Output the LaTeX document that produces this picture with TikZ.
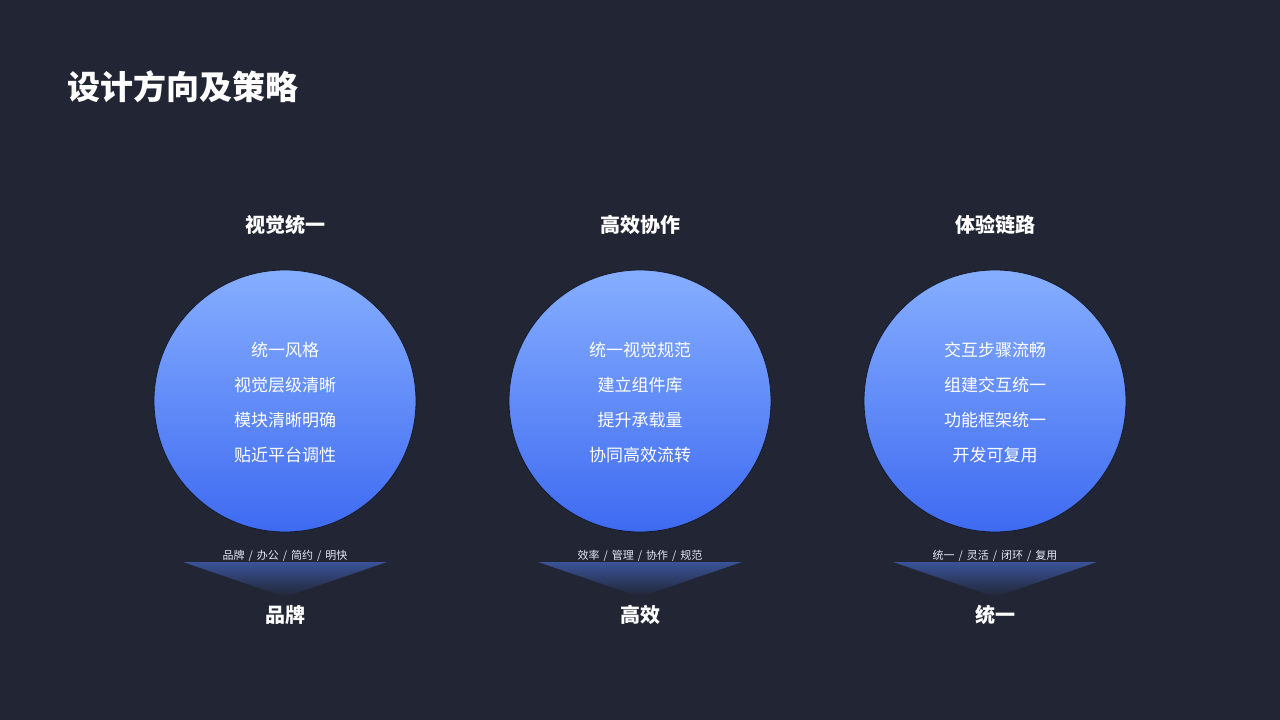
\documentclass[tikz,border=0pt]{standalone}
\usepackage{fontspec}
\setmainfont{Noto Sans CJK SC}
\usepackage{tikz}
\definecolor{bgnavy}{HTML}{212534}
\definecolor{balltop}{HTML}{86AEFF}
\definecolor{ballbottom}{HTML}{3E6AF1}
\definecolor{ballrim}{HTML}{161A28}
\definecolor{wedgeblue}{HTML}{3A5398}
\definecolor{softwhite}{HTML}{E6EAF4}
\newcommand{\sep}[0]{\hspace{4pt}/\hspace{4pt}}
\tikzset{
  ball/.style={circle, minimum size=262pt, inner sep=0pt, draw=ballrim, line width=0.8pt,
    top color=balltop, bottom color=ballbottom},
  ballnote/.style={text=white, align=center, font=\fontsize{17}{35}\selectfont},
  heading/.style={text=white, font=\fontsize{20}{24}\selectfont\bfseries},
  tagline/.style={text=softwhite, font=\fontsize{11}{13}\selectfont},
}

\begin{document}
\begin{tikzpicture}[x=1pt, y=-1pt]
        % background
        \fill[bgnavy] (0,0) rectangle (1280,720);
        \useasboundingbox (0,0) rectangle (1280,720);
        % Add title
        \node[anchor=west, text=white, font=\fontsize{33}{36}\selectfont\bfseries] (title) at (64,87) {设计方向及策略};
        % Add headings
        \node[heading] (h1) at (285,225) {视觉统一};
        \node[heading] (h2) at (640,225) {高效协作};
        \node[heading] (h3) at (995,225) {体验链路};
        % Add circles
        \node[ball] (b1) at (285,401) {};
        \node[ball] (b2) at (640,401) {};
        \node[ball] (b3) at (995,401) {};
        \node[ballnote] (n1) at ([yshift=-1.5pt]b1.center) {统一风格\\视觉层级清晰\\模块清晰明确\\贴近平台调性};
        \node[ballnote] (n2) at ([yshift=-1.5pt]b2.center) {统一视觉规范\\建立组件库\\提升承载量\\协同高效流转};
        \node[ballnote] (n3) at ([yshift=-1.5pt]b3.center) {交互步骤流畅\\组建交互统一\\功能框架统一\\开发可复用};
        % Add wedges
        \shade[top color=wedgeblue, bottom color=bgnavy] (183,562) -- (387,562) -- (285,597) -- cycle;
        \shade[top color=wedgeblue, bottom color=bgnavy] (538,562) -- (742,562) -- (640,597) -- cycle;
        \shade[top color=wedgeblue, bottom color=bgnavy] (893,562) -- (1097,562) -- (995,597) -- cycle;
        % Add tags
        \node[tagline] (t1) at (285,555.5) {品牌\sep 办公\sep 简约\sep 明快};
        \node[tagline] (t2) at (640,555.5) {效率\sep 管理\sep 协作\sep 规范};
        \node[tagline] (t3) at (995,555.5) {统一\sep 灵活\sep 闭环\sep 复用};
        % Add keywords
        \node[heading] (k1) at (285,615) {品牌};
        \node[heading] (k2) at (640,615) {高效};
        \node[heading] (k3) at (995,615) {统一};
    \end{tikzpicture}
\end{document}
